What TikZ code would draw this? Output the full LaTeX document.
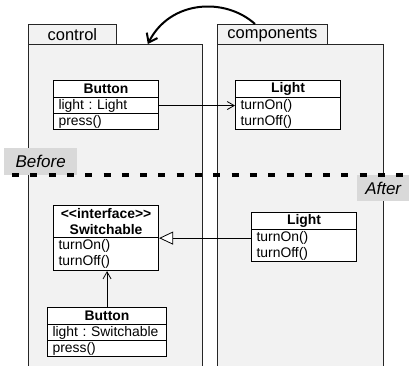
\documentclass[tikz,border=0pt]{standalone}
\usepackage{fontspec}
\setmainfont{Liberation Sans}
\usetikzlibrary{arrows.meta}
\definecolor{pkgfill}{HTML}{F2F2F2}
\definecolor{labelfill}{HTML}{D9D9D9}
\frenchspacing
\begin{document}
\begin{tikzpicture}[x=1pt,y=-1pt,
  pkgbody/.style={draw=black!85, fill=pkgfill, line width=0.8pt, inner sep=0pt, anchor=north west},
  pkgtab/.style={pkgbody, font=\fontsize{16.5}{18}\selectfont},
  clsbox/.style={draw=black, fill=white, line width=1.1pt, anchor=north west, font=\fontsize{13.9}{16}\selectfont},
  clshead/.style={clsbox, inner sep=0pt, align=center, font=\fontsize{13.9}{16}\selectfont\bfseries},
  clsrow/.style={clsbox, inner xsep=5pt, inner ysep=0pt, align=left},
  phase/.style={fill=labelfill, inner sep=0pt, anchor=north west, font=\fontsize{17}{19}\selectfont\itshape},
  assoc/.style={line width=0.8pt, -{Straight Barb[length=7pt,width=8pt]}},
  realize/.style={line width=0.8pt, -{Triangle[open,length=14pt,width=13pt,fill=white]}},
  moveto/.style={line width=2pt, -{Straight Barb[length=8pt,width=12pt]}},
  divider/.style={line width=4pt, dash pattern=on 7pt off 11.3pt}
]
\clip (0,0) rectangle (409,366);
% packages
\node[pkgbody, minimum width=174, minimum height=330] (ctrl) at (28,44) {};
\node[pkgtab, minimum width=88, minimum height=20] (ctrltab) at (28,24) {control};
\node[pkgbody, minimum width=166, minimum height=330] (comp) at (217,44) {};
\node[pkgtab, minimum width=110, minimum height=20] (comptab) at (217,24) {components};
% before: Button
\node[clshead, minimum width=105, text width=105, minimum height=17] (b1h) at (53,80) {Button};
\node[clsrow, text width=95, minimum height=16] (b1a) at (53,97) {light : Light};
\node[clsrow, text width=95, minimum height=16] (b1m) at (53,113) {press()};
% before: Light
\node[clshead, minimum width=105, text width=105, minimum height=17] (l1h) at (235,80) {Light};
\node[clsrow, text width=95, minimum height=32] (l1m) at (235,97) {turnOn()\\turnOff()};
% after: Switchable
\node[clshead, minimum width=105, text width=105, minimum height=32] (swh) at (53,205) {<\kern0pt<interface>\kern0pt>\\Switchable};
\node[clsrow, text width=95, minimum height=33] (swm) at (53,237) {turnOn()\\turnOff()};
% after: Button
\node[clshead, minimum width=119, text width=119, minimum height=17] (b2h) at (47,307) {Button};
\node[clsrow, text width=109, minimum height=16] (b2a) at (47,324) {light : Switchable};
\node[clsrow, text width=109, minimum height=16] (b2m) at (47,340) {press()};
% after: Light
\node[clshead, minimum width=105, text width=105, minimum height=17] (l2h) at (251,212) {Light};
\node[clsrow, text width=95, minimum height=32] (l2m) at (251,229) {turnOn()\\turnOff()};
% connectors
\draw[assoc] (b1a.east) -- (b1a.east -| l1m.west);
\draw[realize] (l2m.west |- swh.south east) -- (swh.south east);
\draw[assoc] (b2h.north) -- (b2h.north |- swm.south);
\coordinate (curvestart) at ([xshift=38pt]comptab.north west);
\coordinate (curveend) at ([xshift=-55pt]ctrl.north east);
\draw[moveto] (curvestart) .. controls (225,-3) and (170,0) .. (curveend);
% phase labels
\node[phase, minimum width=73, minimum height=27] (before) at (4,148) {Before};
\node[phase, minimum width=52, minimum height=26] (after) at (357,175) {After};
\coordinate (divl) at (12,175);
\coordinate (divr) at (412,175);
\draw[divider] (divl) -- (divr);
\end{tikzpicture}
\end{document}
